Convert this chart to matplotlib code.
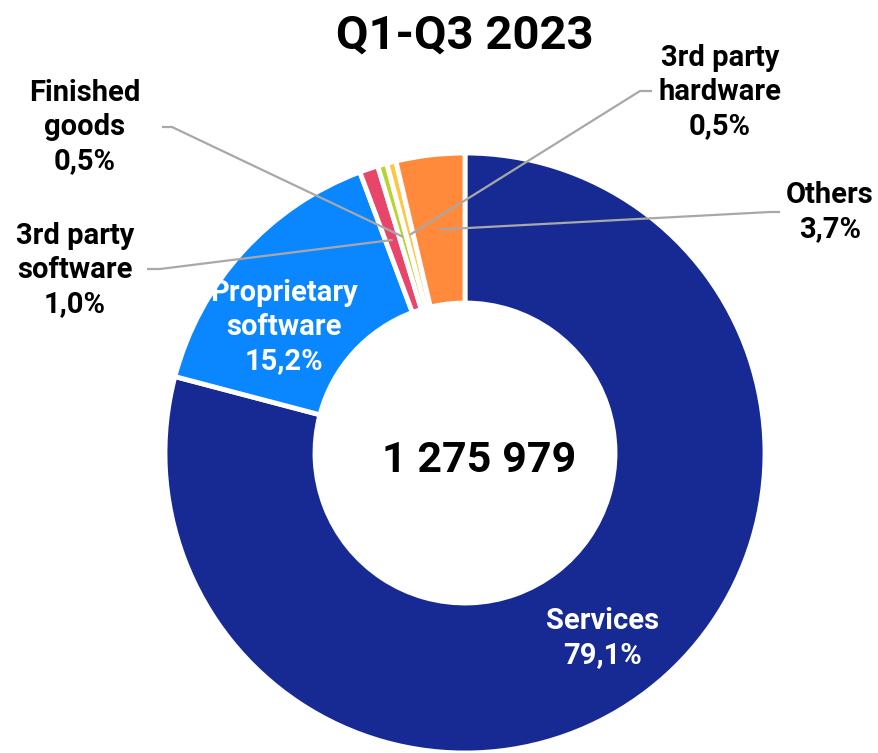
import matplotlib.pyplot as plt
import numpy as np

plt.rcParams["font.family"] = ["Roboto", "DejaVu Sans"]

categories = ["Services", "Proprietary\nsoftware", "3rd party\nsoftware",
              "Finished\ngoods", "3rd party\nhardware", "Others"]
shares = [79.1, 15.2, 1.0, 0.5, 0.5, 3.7]
colors = ["#172A94", "#0A86FF", "#E8456B", "#B8D432", "#FFC646", "#FF8A3B"]
total = "1 275 979"
title = "Q1-Q3 2023"

W, H = 879, 753
cx, cy, R = 465, 300, 300   # pixel-like data coords, y up
ring = 0.5


def fmt(v):
    return f"{v:.1f}".replace(".", ",") + "%"


fig = plt.figure(figsize=(W / 100, H / 100), dpi=100)
ax = fig.add_axes([0, 0, 1, 1])

wedges, _ = ax.pie(shares, colors=colors, startangle=90, counterclock=False,
                   center=(cx, cy), radius=R, frame=True,
                   wedgeprops=dict(width=R * ring, edgecolor="white", linewidth=3.5))
ax.set_xlim(0, W)
ax.set_ylim(0, H)
ax.set_aspect("equal")
ax.axis("off")


def mid_point(w, frac=0.75):
    a = np.deg2rad((w.theta1 + w.theta2) / 2)
    return cx + R * frac * np.cos(a), cy + R * frac * np.sin(a)


label_kw = dict(ha="center", va="center", fontsize=21, fontweight="bold",
                linespacing=1.28)

# labels inside the two large segments
inside = {0: (603, H - 638), 1: (284, H - 327)}
for i, (x, y) in inside.items():
    ax.text(x, y, f"{categories[i]}\n{fmt(shares[i])}", color="white", **label_kw)

# outside labels with leader lines: (elbow, line end, text position)
leaders = {
    2: ((160, H - 269), (147, H - 269), (75, H - 270)),
    3: ((172, H - 127), (162, H - 127), (85, H - 127)),
    4: ((640, H - 91), (652, H - 91), (720, H - 92)),
    5: ((770, H - 212), (780, H - 212), (830, H - 212)),
}
for i, (elbow, end, pos) in leaders.items():
    x0, y0 = mid_point(wedges[i])
    ax.plot([x0, elbow[0], end[0]], [y0, elbow[1], end[1]],
            color="#A8A8A8", lw=1.6, solid_capstyle="butt")
    ax.text(pos[0], pos[1], f"{categories[i]}\n{fmt(shares[i])}", color="black",
            **label_kw)

ax.text(cx + 14, cy - 8, total, ha="center", va="center",
        fontsize=31, fontweight="bold", color="black")
ax.text(cx, H - 36, title, ha="center", va="center",
        fontsize=34, fontweight="bold", color="black")

fig.savefig("out.png", dpi=100, facecolor="white")
